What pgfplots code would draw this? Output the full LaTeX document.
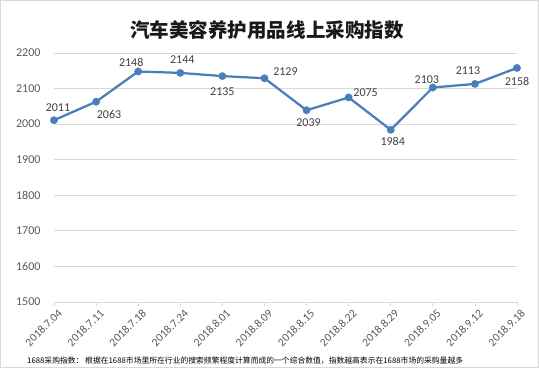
\documentclass[border=0pt]{standalone}
\usepackage{pgfplots}
\pgfplotsset{compat=1.18}
\usepackage{pgfplotstable}
\usepackage{fontspec}
\setmainfont{Carlito}
\newfontfamily\cjk{Noto Sans CJK SC}
\definecolor{lineblue}{HTML}{4A7EBB}
\definecolor{gridgray}{HTML}{D9D9D9}
\definecolor{ticktext}{HTML}{595959}
\definecolor{labeltext}{HTML}{404040}
\pgfplotstableread{
x y dx dy
0 2011 4 13
1 2063 13 -13
2 2148 -7 9
3 2144 2 13
4 2135 0 -16
5 2129 21 7
6 2039 2 -12
7 2075 17 5
8 1984 2 -12
9 2103 -6 8
10 2113 -7 13
11 2158 0 -14
}\datatable
\begin{document}
\begin{tikzpicture}
\begin{axis}[
  scale only axis,
  width=463pt, height=249pt,
  xmin=0, xmax=11,
  ymin=1500, ymax=2200,
  ytick={1500,1600,1700,1800,1900,2000,2100,2200},
  xtick={0,...,11},
  xticklabels={2018.7.04,2018.7.11,2018.7.18,2018.7.24,2018.8.01,2018.8.09,2018.8.15,2018.8.22,2018.8.29,2018.9.05,2018.9.12,2018.9.18},
  clip=false,
  axis x line*=bottom,
  axis y line*=left,
  y axis line style={draw=none},
  ymajorgrids,
  grid style={gridgray, line width=0.75pt},
  x axis line style={gridgray, line width=0.75pt, -},
  xtick style={gridgray, line width=0.75pt},
  major tick length=4pt,
  tick align=outside,
  /pgf/number format/assume math mode=true,
  /pgf/number format/set thousands separator={},
  yticklabel style={font=\fontsize{12}{14}\selectfont, text=ticktext, anchor=east, xshift=-6pt},
  ytick style={draw=none},
  xticklabel style={font=\fontsize{11.5}{13}\selectfont, text=ticktext, rotate=45, anchor=east, xshift=4pt, yshift=-8pt},
]
\addplot[lineblue, line width=2.25pt, mark=*, mark size=3.8pt, mark options={fill=lineblue, draw=lineblue, line width=0.1pt, solid}] table[x=x,y=y] {\datatable};
\addplot[draw=none, no marks,
  point meta=y,
  visualization depends on={\thisrow{dx} \as \dx},
  visualization depends on={\thisrow{dy} \as \dy},
  nodes near coords={\pgfmathprintnumber[assume math mode=true, set thousands separator={}]{\pgfplotspointmeta}},
  every node near coord/.append style={anchor=center, xshift=\dx pt, yshift=\dy pt, font=\fontsize{12}{14}\selectfont, text=labeltext, inner sep=0pt},
] table[x=x,y=y] {\datatable};
\coordinate (O) at (rel axis cs:0,0);
\end{axis}
\begin{scope}[shift={(O)}]
\draw[gridgray, line width=0.75pt] (-53.6pt,-65.6pt) rectangle (484.6pt,301.6pt);
\node[font=\cjk\bfseries\fontsize{19.5}{22}\selectfont, text=black!90] at (213pt,272pt) {汽车美容养护用品线上采购指数};
\node[font=\cjk\fontsize{7.8}{9}\selectfont, anchor=west, inner sep=0pt] at (-27pt,-59pt) {1688采购指数： 根据在1688市场里所在行业的搜索频繁程度计算而成的一个综合数值，指数越高表示在1688市场的采购量越多};
\end{scope}
\end{tikzpicture}
\end{document}
